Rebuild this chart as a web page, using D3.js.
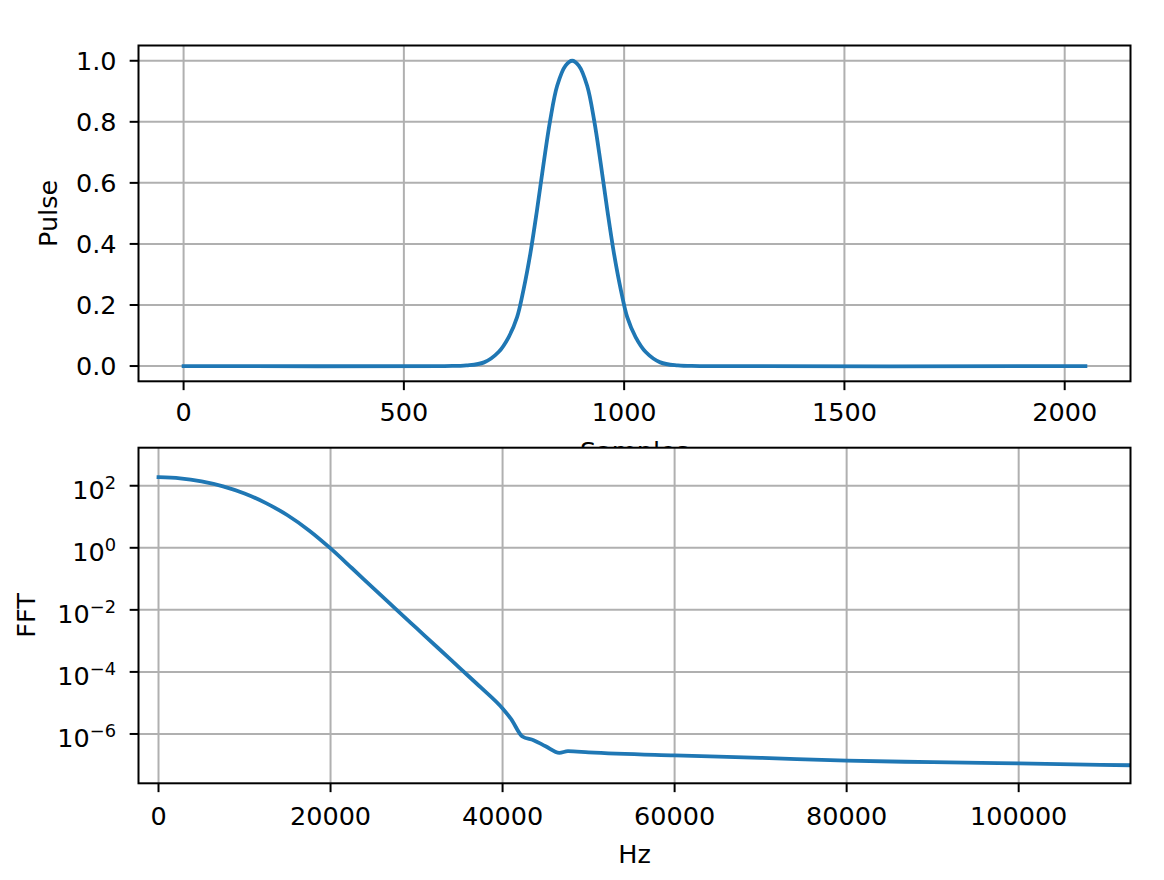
<!DOCTYPE html>
<html>
<head>
<meta charset="utf-8">
<script src="https://cdn.jsdelivr.net/npm/d3@7"></script>
<style>
  html, body { margin: 0; padding: 0; background: #ffffff; }
  svg { display: block; }
  text { font-family: "DejaVu Sans", sans-serif; fill: #000; }
</style>
</head>
<body>
<script>
// ---- data ----
const pulseSamples = [0, 592, 642, 682, 715, 738, 757, 772, 787, 802, 817, 832, 848, 867, 882, 897, 916, 932, 947, 962, 977, 992, 1007, 1026, 1049, 1082, 1122, 1172, 2047];
const pulseValues  = [0, 0, 0.002, 0.012, 0.046, 0.095, 0.16, 0.253, 0.368, 0.509, 0.662, 0.804, 0.918, 0.984, 1.0, 0.984, 0.918, 0.804, 0.662, 0.509, 0.368, 0.253, 0.16, 0.095, 0.046, 0.012, 0.002, 0, 0];

const fftHz  = [0, 2500, 5000, 7500, 10000, 12500, 15000, 17500, 20000, 22500, 25000, 27500, 30000, 32500, 35000, 37500, 40000, 41000, 42300, 43600, 45000, 46600, 47600, 50000, 60000, 70000, 80000, 90000, 100000, 113000, 115000];
const fftMag = [190, 174, 138, 95.5, 56.2, 27.5, 11.2, 3.63, 0.955, 0.219, 0.049, 0.0112, 2.57e-3, 5.9e-4, 1.35e-4, 3.09e-5, 6.6e-6, 3.0e-6, 8.3e-7, 6.3e-7, 4.0e-7, 2.45e-7, 2.8e-7, 2.57e-7, 2.04e-7, 1.7e-7, 1.38e-7, 1.23e-7, 1.12e-7, 9.8e-8, 9.6e-8];

const topXTicks = [0, 500, 1000, 1500, 2000];
const topYTicks = [0.0, 0.2, 0.4, 0.6, 0.8, 1.0];
const botXTicks = [0, 20000, 40000, 60000, 80000, 100000];
const botYExponents = [2, 0, -2, -4, -6];

const topXLabel = "Samples", topYLabel = "Pulse";
const botXLabel = "Hz", botYLabel = "FFT";

// ---- layout ----
const W = 1164, H = 880;
const FS = 25.5;
const TICK = 8.85;
const BLUE = "#1f77b4", GRID = "#b0b0b0";
const L = 138.5, R = 1130.5;

const svg = d3.select("body").append("svg").attr("width", W).attr("height", H);
svg.append("rect").attr("width", W).attr("height", H).attr("fill", "#fff");

function makeAxes(opts) {
  const { x, y, top, bottom, xTicks, yTicks, xFmt, yLabelFn, xs, ys, id, xLabel, xLabelY, yLabel, yLabelX, xTickBase, curve } = opts;
  const g = svg.append("g");
  g.append("rect").attr("x", L).attr("y", top).attr("width", R - L).attr("height", bottom - top).attr("fill", "#fff");
  // grid
  g.selectAll(".vg").data(xTicks).enter().append("line")
    .attr("x1", d => x(d)).attr("x2", d => x(d)).attr("y1", top).attr("y2", bottom)
    .attr("stroke", GRID).attr("stroke-width", 2);
  g.selectAll(".hg").data(yTicks).enter().append("line")
    .attr("x1", L).attr("x2", R).attr("y1", d => y(d)).attr("y2", d => y(d))
    .attr("stroke", GRID).attr("stroke-width", 2);
  // clip + line
  svg.append("clipPath").attr("id", id).append("rect")
    .attr("x", L).attr("y", top).attr("width", R - L).attr("height", bottom - top);
  const line = d3.line().x((d, i) => x(xs[i])).y((d, i) => y(ys[i])).curve(curve);
  g.append("path").datum(xs).attr("d", line).attr("clip-path", `url(#${id})`)
    .attr("fill", "none").attr("stroke", BLUE).attr("stroke-width", 3.8)
    .attr("stroke-linecap", "square").attr("stroke-linejoin", "round");
  // spines
  g.append("rect").attr("x", L).attr("y", top).attr("width", R - L).attr("height", bottom - top)
    .attr("fill", "none").attr("stroke", "#000").attr("stroke-width", 2);
  // x ticks
  g.selectAll(".xt").data(xTicks).enter().append("line")
    .attr("x1", d => x(d)).attr("x2", d => x(d)).attr("y1", bottom).attr("y2", bottom + TICK)
    .attr("stroke", "#000").attr("stroke-width", 2);
  g.selectAll(".xtl").data(xTicks).enter().append("text")
    .attr("x", d => x(d)).attr("y", xTickBase).attr("text-anchor", "middle")
    .attr("font-size", FS).text(xFmt);
  // y ticks
  g.selectAll(".yt").data(yTicks).enter().append("line")
    .attr("x1", L - TICK).attr("x2", L).attr("y1", d => y(d)).attr("y2", d => y(d))
    .attr("stroke", "#000").attr("stroke-width", 2);
  yTicks.forEach(d => yLabelFn(g, d, y(d)));
  // axis labels
  g.append("text").attr("x", (L + R) / 2).attr("y", xLabelY).attr("text-anchor", "middle")
    .attr("font-size", FS).text(xLabel);
  g.append("text").attr("transform", `translate(${yLabelX},${(top + bottom) / 2}) rotate(-90)`)
    .attr("text-anchor", "middle").attr("font-size", FS).text(yLabel);
}

// ---- top axes ----
const xTop = d3.scaleLinear().domain([-102.35, 2149.35]).range([L, R]);
const yTop = d3.scaleLinear().domain([-0.05, 1.05]).range([381.3, 45.5]);
makeAxes({
  id: "clipTop", x: xTop, y: yTop, top: 45.5, bottom: 381.3,
  xTicks: topXTicks, yTicks: topYTicks, xs: pulseSamples, ys: pulseValues,
  curve: d3.curveCatmullRom.alpha(0.5),
  xFmt: d => d3.format("d")(d), xTickBase: 421,
  yLabelFn: (g, d, py) => g.append("text").attr("x", 116.5).attr("y", py + 9.3)
    .attr("text-anchor", "end").attr("font-size", FS).text(d3.format(".1f")(d)),
  xLabel: topXLabel, xLabelY: 460, yLabel: topYLabel, yLabelX: 56.5
});

// ---- bottom axes (drawn after, its background hides part of "Samples") ----
const xBot = d3.scaleLinear().domain([-2326, 113000]).range([L, R]);
const yBot = d3.scaleLog().domain([Math.pow(10, -7.59), Math.pow(10, 3.226)]).range([783.3, 447.7]);
makeAxes({
  id: "clipBot", x: xBot, y: yBot, top: 447.7, bottom: 783.3,
  xTicks: botXTicks, yTicks: botYExponents.map(e => Math.pow(10, e)), xs: fftHz, ys: fftMag,
  curve: d3.curveMonotoneX,
  xFmt: d => d3.format("d")(d), xTickBase: 824.5,
  yLabelFn: (g, d, py) => {
    const e = Math.round(Math.log10(d));
    const t = g.append("text").attr("x", 116).attr("y", py + 13).attr("text-anchor", "end").attr("font-size", FS);
    t.append("tspan").text("10");
    t.append("tspan").attr("font-size", FS * 0.7).attr("dy", -10).text(e < 0 ? "\u2212" + (-e) : String(e));
  },
  xLabel: botXLabel, xLabelY: 863.3, yLabel: botYLabel, yLabelX: 35
});
</script>
</body>
</html>
